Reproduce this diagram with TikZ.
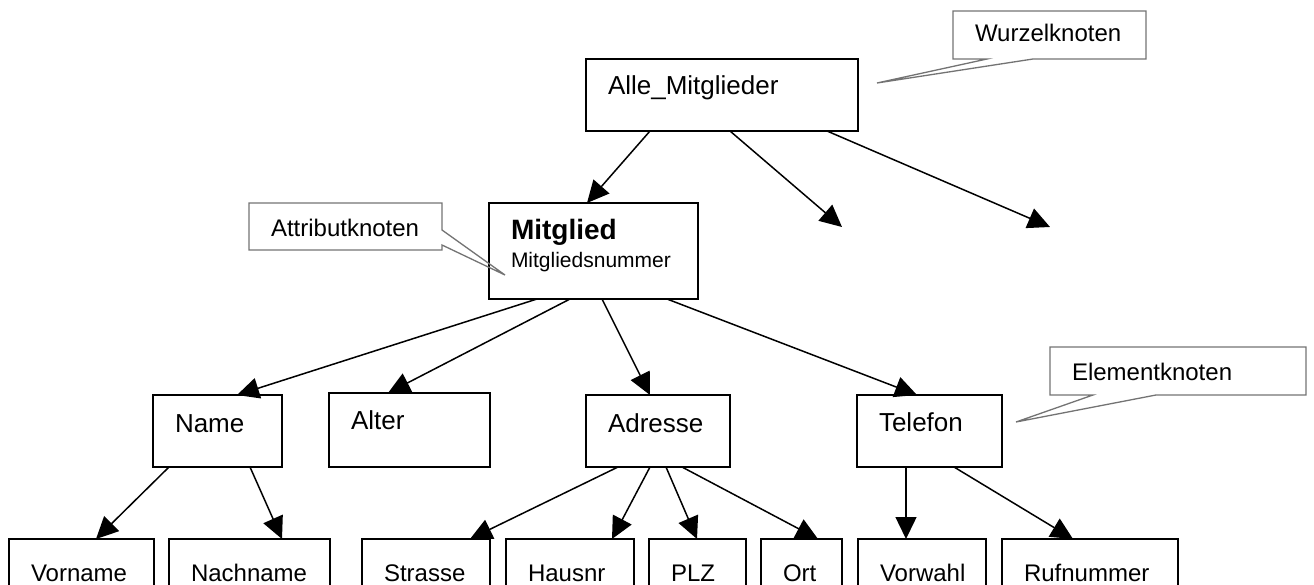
\documentclass[tikz,border=0pt]{standalone}
\usepackage{fontspec}
\setmainfont{Liberation Sans}
\usetikzlibrary{arrows.meta}

\begin{document}
\begin{tikzpicture}[x=1pt,y=-1pt,
        kasten/.style={draw,line width=1.8pt,anchor=north west,align=left,inner xsep=22pt,inner ysep=0pt,outer sep=0pt,font=\fontsize{26}{31}\selectfont},
        blatt/.style={kasten,text height=42pt,text depth=20pt,font=\fontsize{24}{29}\selectfont},
        hinweis/.style={anchor=north west,align=left,inner xsep=22pt,inner ysep=0pt,outer sep=0pt,font=\fontsize{24}{29}\selectfont},
        hinweislinie/.style={draw=black!55,line width=1.3pt},
        pfeil/.style={line width=1.5pt,-{Triangle[length=22pt,width=21pt]}}]
        \useasboundingbox (0,0) rectangle (1314,585);
        % Baum
        \node[kasten,text width=228pt,text height=36pt,text depth=36pt] (alle) at (586,59) {Alle\_Mitglieder};
        \node[kasten,text width=165pt,text height=37pt,text depth=59pt,font=\fontsize{21}{28}\selectfont] (mitglied) at (489,203) {{\fontsize{28}{28}\selectfont\bfseries Mitglied}\\Mitgliedsnummer};
        \node[kasten,text width=85pt,text height=37pt,text depth=35pt] (name) at (153,395) {Name};
        \node[kasten,text width=117pt,text height=36pt,text depth=38pt] (alter) at (329,393) {Alter};
        \node[kasten,text width=100pt,text height=37pt,text depth=35pt] (adresse) at (586,395) {Adresse};
        \node[kasten,text width=101pt,text height=36pt,text depth=36pt] (telefon) at (857,395) {Telefon};
        \node[blatt,text width=101pt] (vorname) at (9,539) {Vorname};
        \node[blatt,text width=117pt] (nachname) at (169,539) {Nachname};
        \node[blatt,text width=84pt] (strasse) at (362,539) {Strasse};
        \node[blatt,text width=84pt] (hausnr) at (506,539) {Hausnr};
        \node[blatt,text width=53pt] (plz) at (649,539) {PLZ};
        \node[blatt,text width=37pt] (ort) at (761,539) {Ort};
        \node[blatt,text width=84pt] (vorwahl) at (858,539) {Vorwahl};
        \node[blatt,text width=132pt] (rufnummer) at (1002,539) {Rufnummer};
        \coordinate (frei1) at (842,227);
        \coordinate (frei2) at (1050,227);
        \draw[pfeil] ([xshift=64pt]alle.south west) -- ([xshift=98pt]mitglied.north west);
        \draw[pfeil] ([xshift=144pt]alle.south west) -- (frei1);
        \draw[pfeil] ([xshift=241pt]alle.south west) -- (frei2);
        \draw[pfeil] ([xshift=48pt]mitglied.south west) -- ([xshift=84pt]name.north west);
        \draw[pfeil] ([xshift=81pt]mitglied.south west) -- ([xshift=59pt]alter.north west);
        \draw[pfeil] ([xshift=113pt]mitglied.south west) -- ([xshift=64pt]adresse.north west);
        \draw[pfeil] ([xshift=178pt]mitglied.south west) -- ([xshift=60pt]telefon.north west);
        \draw[pfeil] ([xshift=16pt]name.south west) -- ([xshift=87pt]vorname.north west);
        \draw[pfeil] ([xshift=97pt]name.south west) -- ([xshift=113pt]nachname.north west);
        \draw[pfeil] ([xshift=32pt]adresse.south west) -- ([xshift=108pt]strasse.north west);
        \draw[pfeil] ([xshift=64pt]adresse.south west) -- ([xshift=106pt]hausnr.north west);
        \draw[pfeil] ([xshift=80pt]adresse.south west) -- ([xshift=48pt]plz.north west);
        \draw[pfeil] ([xshift=96pt]adresse.south west) -- ([xshift=57pt]ort.north west);
        \draw[pfeil] ([xshift=49pt]telefon.south west) -- ([xshift=48pt]vorwahl.north west);
        \draw[pfeil] ([xshift=97pt]telefon.south west) -- ([xshift=71pt]rufnummer.north west);
        % Hinweise
        \node[hinweis,text width=149pt,text height=31pt,text depth=17pt] (wurzel) at (953,11) {Wurzelknoten};
        \node[hinweis,text width=149pt,text height=34pt,text depth=13pt] (attribut) at (249,203) {Attributknoten};
        \node[hinweis,text width=212pt,text height=33pt,text depth=15pt] (element) at (1050,347) {Elementknoten};
        \coordinate (spitzeW) at (877,83);
        \coordinate (spitzeA) at (505,275);
        \coordinate (spitzeE) at (1016,422);
        \draw[hinweislinie] (wurzel.north west) -- (wurzel.north east) -- (wurzel.south east) -- ([xshift=80pt]wurzel.south west) -- (spitzeW) -- ([xshift=34pt]wurzel.south west) -- (wurzel.south west) -- cycle;
        \draw[hinweislinie] (attribut.north west) -- (attribut.north east) -- ([yshift=-27pt]attribut.north east) -- (spitzeA) -- ([yshift=-42pt]attribut.north east) -- (attribut.south east) -- (attribut.south west) -- cycle;
        \draw[hinweislinie] (element.north west) -- (element.north east) -- (element.south east) -- ([xshift=106pt]element.south west) -- (spitzeE) -- ([xshift=43pt]element.south west) -- (element.south west) -- cycle;
    \end{tikzpicture}
\end{document}
